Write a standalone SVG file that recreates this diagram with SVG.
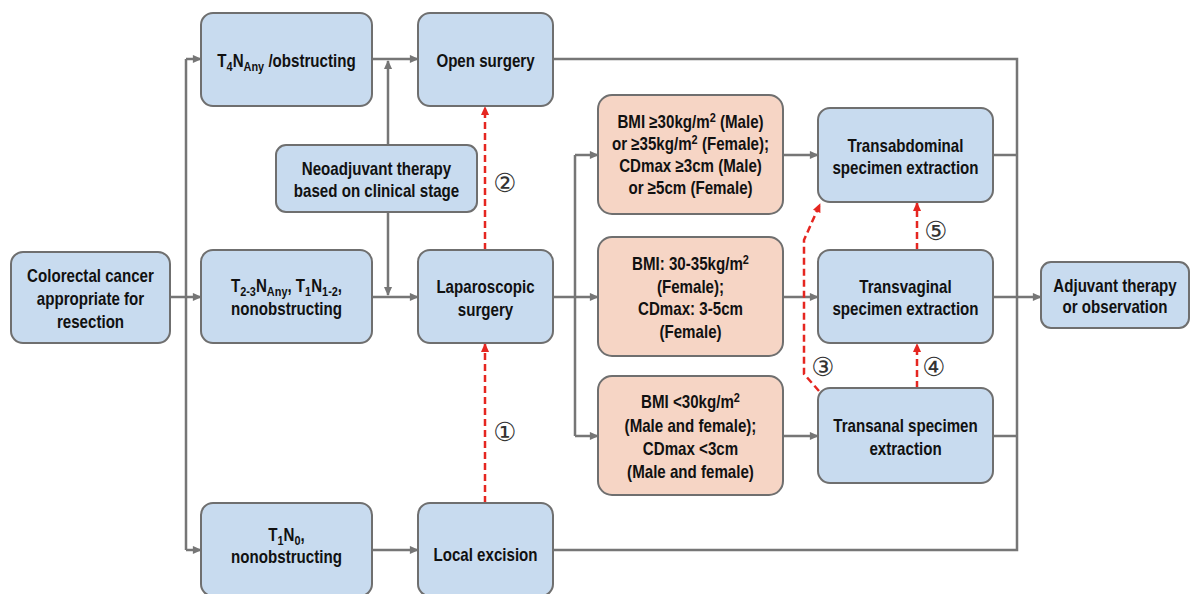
<svg xmlns="http://www.w3.org/2000/svg" width="1191" height="594" viewBox="0 0 1191 594">
<style>
.box{fill:#c8dbef;stroke:#6f6f6f;stroke-width:2}
.pk{fill:#f6d5c5;stroke:#6f6f6f;stroke-width:2}
.t{font-family:"Liberation Sans",Arial,sans-serif;font-weight:bold;font-size:18px;fill:#111;text-anchor:middle}
.ln{fill:none;stroke:#767676;stroke-width:2.5}
.rd{fill:none;stroke:#e52620;stroke-width:2.5;stroke-dasharray:7 4}
.num{font-family:"DejaVu Sans",sans-serif;font-size:26px;fill:#333;text-anchor:middle;dominant-baseline:central}
.sb{font-size:13px}
</style>
<defs>
<marker id="ah" viewBox="0 0 10 10" refX="9" refY="5" markerWidth="10" markerHeight="9" markerUnits="userSpaceOnUse" orient="auto"><path d="M0,0.5 L10,5 L0,9.5 z" fill="#767676"/></marker>
<marker id="ar" viewBox="0 0 10 10" refX="9" refY="5" markerWidth="10" markerHeight="9" markerUnits="userSpaceOnUse" orient="auto"><path d="M0,0.5 L10,5 L0,9.5 z" fill="#e52620"/></marker>
</defs>
<rect width="1191" height="594" fill="#ffffff"/>

<g id="connectors">
<path class="ln" d="M170,297 H201" marker-end="url(#ah)"/>
<path class="ln" d="M186,59 V550"/>
<path class="ln" d="M186,59 H201" marker-end="url(#ah)"/>
<path class="ln" d="M186,550 H201" marker-end="url(#ah)"/>
<path class="ln" d="M372,59 H418" marker-end="url(#ah)"/>
<path class="ln" d="M372,297 H418" marker-end="url(#ah)"/>
<path class="ln" d="M372,550 H418" marker-end="url(#ah)"/>
<path class="ln" d="M388,145 V61" marker-end="url(#ah)"/>
<path class="ln" d="M388,212 V295" marker-end="url(#ah)"/>
<path class="ln" d="M553,59 H1017 V550 H553"/>
<path class="ln" d="M553,297 H598" marker-end="url(#ah)"/>
<path class="ln" d="M575,155 V436"/>
<path class="ln" d="M575,155 H598" marker-end="url(#ah)"/>
<path class="ln" d="M575,436 H598" marker-end="url(#ah)"/>
<path class="ln" d="M783,155 H818" marker-end="url(#ah)"/>
<path class="ln" d="M783,297 H818" marker-end="url(#ah)"/>
<path class="ln" d="M783,436 H818" marker-end="url(#ah)"/>
<path class="ln" d="M993,155 H1017"/>
<path class="ln" d="M993,436 H1017"/>
<path class="ln" d="M993,297 H1041" marker-end="url(#ah)"/>
<path class="rd" d="M485,250 V107" marker-end="url(#ar)"/>
<path class="rd" d="M485,503 V344" marker-end="url(#ar)"/>
<path class="rd" d="M917,388 V344" marker-end="url(#ar)"/>
<path class="rd" d="M917,250 V203" marker-end="url(#ar)"/>
<path class="rd" d="M819,391 L804,374 V240 L820,204" marker-end="url(#ar)"/>
<text class="num" x="505" y="183">②</text>
<text class="num" x="505" y="432">①</text>
<text class="num" x="823" y="367">③</text>
<text class="num" x="934" y="367">④</text>
<text class="num" x="936" y="231">⑤</text>
</g>

<g id="colorectal">
<rect class="box" x="11" y="252" width="159" height="91" rx="12"/>
<text class="t" transform="translate(90.5,0) scale(0.84,1)"><tspan x="0" y="282">Colorectal cancer</tspan><tspan x="0" y="305">appropriate for</tspan><tspan x="0" y="328">resection</tspan></text>
</g>

<g id="t4">
<rect class="box" x="201" y="13" width="171" height="93" rx="12"/>
<text class="t" transform="translate(286.5,0) scale(0.84,1)" x="0" y="67">T<tspan class="sb" dy="4">4</tspan><tspan dy="-4">N</tspan><tspan class="sb" dy="4">Any</tspan><tspan dy="-4"> /obstructing</tspan></text>
</g>

<g id="open">
<rect class="box" x="418" y="13" width="135" height="93" rx="12"/>
<text class="t" transform="translate(485.5,0) scale(0.84,1)" x="0" y="67">Open surgery</text>
</g>

<g id="neoadjuvant">
<rect class="box" x="276" y="145" width="201" height="67" rx="10"/>
<text class="t" transform="translate(376.5,0) scale(0.84,1)"><tspan x="0" y="175">Neoadjuvant therapy</tspan><tspan x="0" y="197">based on clinical stage</tspan></text>
</g>

<g id="t23">
<rect class="box" x="201" y="250" width="171" height="93" rx="12"/>
<text class="t" transform="translate(286.5,0) scale(0.84,1)"><tspan x="0" y="292">T</tspan><tspan class="sb" dy="4">2-3</tspan><tspan dy="-4">N</tspan><tspan class="sb" dy="4">Any</tspan><tspan dy="-4">, T</tspan><tspan class="sb" dy="4">1</tspan><tspan dy="-4">N</tspan><tspan class="sb" dy="4">1-2</tspan><tspan dy="-4">,</tspan><tspan x="0" y="315">nonobstructing</tspan></text>
</g>

<g id="laparoscopic">
<rect class="box" x="418" y="250" width="135" height="93" rx="12"/>
<text class="t" transform="translate(485.5,0) scale(0.84,1)"><tspan x="0" y="293">Laparoscopic</tspan><tspan x="0" y="316">surgery</tspan></text>
</g>

<g id="t1n0">
<rect class="box" x="201" y="503" width="171" height="93" rx="12"/>
<text class="t" transform="translate(286.5,0) scale(0.84,1)"><tspan x="0" y="541">T</tspan><tspan class="sb" dy="4">1</tspan><tspan dy="-4">N</tspan><tspan class="sb" dy="4">0</tspan><tspan dy="-4">,</tspan><tspan x="0" y="563">nonobstructing</tspan></text>
</g>

<g id="local">
<rect class="box" x="418" y="503" width="135" height="93" rx="12"/>
<text class="t" transform="translate(485.5,0) scale(0.84,1)" x="0" y="561">Local excision</text>
</g>

<g id="bmi1">
<rect class="pk" x="598" y="95" width="185" height="119" rx="14"/>
<text class="t" transform="translate(690.5,0) scale(0.84,1)"><tspan x="0" y="128">BMI ≥30kg/m</tspan><tspan class="sb" dy="-6">2</tspan><tspan dy="6"> (Male)</tspan><tspan x="0" y="150">or ≥35kg/m</tspan><tspan class="sb" dy="-6">2</tspan><tspan dy="6"> (Female);</tspan><tspan x="0" y="172">CDmax ≥3cm (Male)</tspan><tspan x="0" y="194">or ≥5cm (Female)</tspan></text>
</g>

<g id="bmi2">
<rect class="pk" x="598" y="237" width="185" height="119" rx="14"/>
<text class="t" transform="translate(690.5,0) scale(0.84,1)"><tspan x="0" y="270">BMI: 30-35kg/m</tspan><tspan class="sb" dy="-6">2</tspan><tspan x="0" y="293">(Female);</tspan><tspan x="0" y="315">CDmax: 3-5cm</tspan><tspan x="0" y="338">(Female)</tspan></text>
</g>

<g id="bmi3">
<rect class="pk" x="598" y="376" width="185" height="119" rx="14"/>
<text class="t" transform="translate(690.5,0) scale(0.84,1)"><tspan x="0" y="408">BMI &lt;30kg/m</tspan><tspan class="sb" dy="-6">2</tspan><tspan x="0" y="432">(Male and female);</tspan><tspan x="0" y="455">CDmax &lt;3cm</tspan><tspan x="0" y="478">(Male and female)</tspan></text>
</g>

<g id="transabdominal">
<rect class="box" x="818" y="108" width="175" height="94" rx="12"/>
<text class="t" transform="translate(905.5,0) scale(0.84,1)"><tspan x="0" y="152">Transabdominal</tspan><tspan x="0" y="174">specimen extraction</tspan></text>
</g>

<g id="transvaginal">
<rect class="box" x="818" y="250" width="175" height="93" rx="12"/>
<text class="t" transform="translate(905.5,0) scale(0.84,1)"><tspan x="0" y="293">Transvaginal</tspan><tspan x="0" y="315">specimen extraction</tspan></text>
</g>

<g id="transanal">
<rect class="box" x="818" y="388" width="175" height="95" rx="12"/>
<text class="t" transform="translate(905.5,0) scale(0.84,1)"><tspan x="0" y="432">Transanal specimen</tspan><tspan x="0" y="455">extraction</tspan></text>
</g>

<g id="adjuvant">
<rect class="box" x="1041" y="262" width="148" height="66" rx="10"/>
<text class="t" transform="translate(1115,0) scale(0.84,1)"><tspan x="0" y="292">Adjuvant therapy</tspan><tspan x="0" y="313">or observation</tspan></text>
</g>
</svg>
